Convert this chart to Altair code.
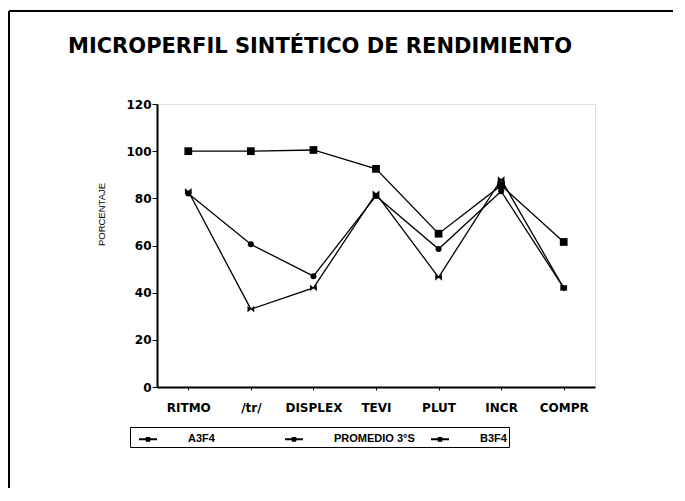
import altair as alt
import pandas as pd

categories = ["RITMO", "/tr/", "DISPLEX", "TEVI", "PLUT", "INCR", "COMPR"]
series_names = ["A3F4", "PROMEDIO 3°S", "B3F4"]
a3f4 = [100, 100, 100.5, 92.5, 65, 85.5, 61.5]
promedio = [82, 60.5, 47, 81, 58.5, 83, 42]
b3f4 = [83, 33, 42, 82, 46.5, 88, 42]
y_ticks = [0, 20, 40, 60, 80, 100, 120]
title_text = "MICROPERFIL SINTÉTICO DE RENDIMIENTO"
marker_shapes = ["square", "circle", "M-1,-1L1,1L1,-1L-1,1Z"]
marker_sizes = [60, 36, 45]

rows = []
for name, vals in zip(series_names, [a3f4, promedio, b3f4]):
    for i, (c, v) in enumerate(zip(categories, vals)):
        rows.append({"cat": c, "val": v, "serie": name, "order": i})
df = pd.DataFrame(rows)

FONT = "Liberation Sans"
WIDE = "DejaVu Sans"

x_enc = alt.X(
    "cat:N", sort=categories, title=None,
    scale=alt.Scale(type="point", padding=0.5),
    axis=alt.Axis(labelAngle=0, labelFontWeight="bold", labelFontSize=12,
                  labelColor="black", tickColor="black", tickSize=3,
                  domainColor="black", domainWidth=2, labelPadding=12,
                  labelFont=WIDE),
)
y_enc = alt.Y(
    "val:Q", title="PORCENTAJE",
    scale=alt.Scale(domain=[0, 120], nice=False),
    axis=alt.Axis(values=y_ticks, labelFontWeight="bold", labelFontSize=12,
                  labelColor="black", tickColor="black", tickSize=5,
                  domainColor="black", domainWidth=2, labelPadding=1,
                  grid=False, labelFont=WIDE,
                  titleFont=FONT, titleFontSize=9.5, titleFontWeight="normal",
                  titleColor="black", titleAngle=270, titleX=-56, titleY=110,
                  titleAlign="center", titleBaseline="middle"),
)

legend_sym = "M-1,0H1M-0.14,-0.14H0.14V0.14H-0.14Z"
lines = alt.Chart(df).mark_line(strokeWidth=1.3).encode(
    x=x_enc, y=y_enc, order="order:Q",
    color=alt.Color("serie:N", sort=series_names,
                    scale=alt.Scale(domain=series_names, range=["black", "black", "black"]),
                    legend=alt.Legend(
                        title=None, orient="none", legendX=-27, legendY=323,
                        direction="horizontal", columns=3, gridAlign="all",
                        symbolType=legend_sym, symbolSize=324, symbolOffset=6,
                        symbolStrokeColor="black", symbolStrokeWidth=2,
                        labelFont=FONT, labelFontSize=11, labelFontWeight="bold",
                        labelColor="black", labelOffset=30, columnPadding=9,
                        strokeColor="black", padding=2,
                    )),
)

point_layers = []
for name, shp, sz in zip(series_names, marker_shapes, marker_sizes):
    point_layers.append(
        alt.Chart(df).transform_filter(alt.datum.serie == name)
        .mark_point(filled=True, opacity=1, color="black", shape=shp, size=sz)
        .encode(x=x_enc, y=y_enc)
    )

frame_top = alt.Chart().mark_rule(color="black", strokeWidth=2).encode(
    x=alt.value(-148), x2=alt.value(700), y=alt.value(-93)
)
frame_left = alt.Chart().mark_rule(color="black", strokeWidth=2).encode(
    x=alt.value(-148), y=alt.value(-93), y2=alt.value(600)
)
title = alt.Chart().mark_text(
    font=WIDE, fontSize=21, fontWeight="bold", color="black",
    align="center", baseline="alphabetic"
).encode(x=alt.value(163), y=alt.value(-51), text=alt.value(title_text))

chart = alt.layer(frame_top, frame_left, title, lines, *point_layers).properties(
    width=438, height=283,
    autosize=alt.AutoSizeParams(type="none"),
    padding={"left": 149, "top": 96, "right": 78, "bottom": 101},
).configure_view(stroke="black", strokeWidth=1.5).configure_legend(
    strokeWidth=2
).configure(background="white")

chart.save("out.html", embed_options={"renderer": "svg", "actions": False})
